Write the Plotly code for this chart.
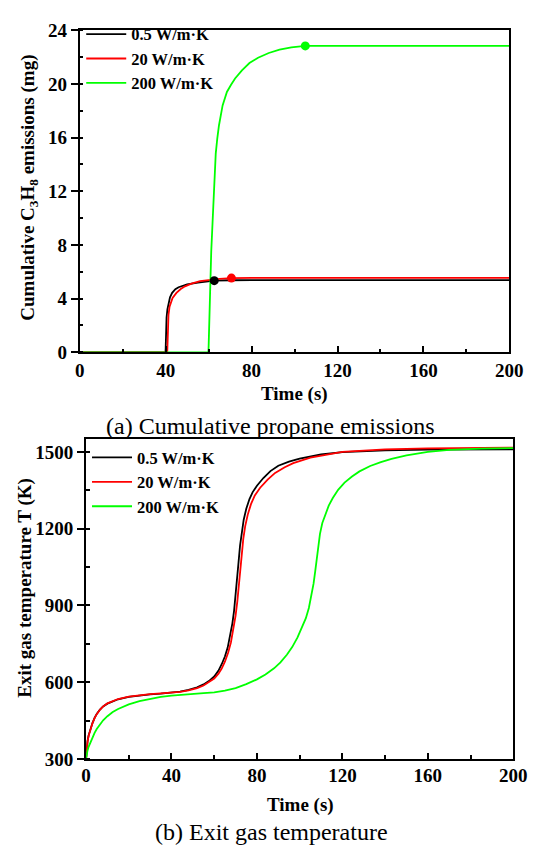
import plotly.graph_objects as go

# ---- (a) cumulative propane emissions, mg ----
t_a_05 = [0, 39.9, 40.0, 40.15, 40.4, 40.8, 41.3, 42.0, 43.0, 44.5, 46.0, 47.6, 50.0, 55.0, 60.0, 62.6, 70.0, 80.0, 200.0]
m_a_05 = [0, 0, 0.3, 1.8, 2.6, 3.2, 3.7, 4.1, 4.43, 4.7, 4.85, 4.95, 5.07, 5.2, 5.3, 5.34, 5.37, 5.38, 5.38]

t_a_20 = [0, 40.7, 40.8, 40.95, 41.3, 41.8, 42.3, 43.2, 45.0, 47.0, 49.0, 52.0, 56.0, 60.0, 65.0, 70.6, 80.0, 200.0]
m_a_20 = [0, 0, 0.3, 1.8, 2.8, 3.4, 3.7, 4.05, 4.43, 4.72, 4.92, 5.12, 5.3, 5.4, 5.48, 5.53, 5.55, 5.55]

t_a_200 = [0, 59.9, 60.0, 60.3, 60.7, 61.2, 61.8, 62.5, 63.3, 64.0, 64.8, 66.5, 68.5, 70.5, 72.3, 75.5,
           79.0, 83.0, 88.0, 93.0, 98.5, 105.0, 200.0]
m_a_200 = [0, 0, 0.5, 2.5, 5.0, 7.5, 9.6, 12.0, 14.8, 15.9, 16.9, 18.4, 19.4, 19.95, 20.4, 21.0,
           21.55, 21.95, 22.3, 22.55, 22.72, 22.83, 22.83]

# end-of-release markers (time, mass)
mark_t = [62.6, 70.6, 105.0]
mark_m = [5.34, 5.53, 22.83]

# ---- (b) exit gas temperature, K ----
t_b_05 = [0, 0.3, 0.7, 1.2, 2, 3, 4, 5, 6.5, 8, 10, 12.5, 15, 20, 25, 30, 35, 40, 44, 48, 52, 55, 57.5,
          60, 62, 63.5, 65, 66.3, 67.5, 68.5, 69.3, 70, 70.7, 71.4, 72.1, 72.9, 73.8, 75, 76.5, 78, 80,
          83, 86.3, 90, 95, 100, 110, 120, 140, 160, 200]
T_b_05 = [300, 340, 370, 392, 415, 440, 460, 476, 493, 505, 516, 526, 533, 542, 548, 552, 555, 558, 563, 570, 580, 591, 604,
          622, 645, 670, 700, 735, 780, 830, 880, 935, 1000, 1070, 1135, 1190, 1235, 1278, 1316, 1343, 1368,
          1398, 1425, 1446, 1462, 1474, 1490, 1499, 1506, 1509, 1510]

t_b_20 = [0, 0.3, 0.7, 1.2, 2, 3, 4, 5, 6.5, 8, 10, 12.5, 15, 20, 25, 30, 35, 40, 44, 48, 52, 55, 57.5,
          60, 62, 63.5, 65, 66.5, 67.8, 69, 70, 70.8, 71.5, 72.2, 72.9, 73.6, 74.5, 75.7, 77.2, 79, 81.5,
          85, 88.5, 93, 97, 105, 120, 140, 160, 200]
T_b_20 = [300, 338, 368, 390, 414, 439, 459, 475, 492, 505, 517, 527, 534, 543, 549, 553, 556, 558, 562, 568, 577, 587, 599,
          614, 633, 653, 680, 715, 755, 805, 860, 915, 975, 1040, 1105, 1160, 1210, 1255, 1296, 1330, 1360,
          1392, 1418, 1440, 1456, 1478, 1500, 1510, 1514, 1517]

t_b_200 = [0, 0.3, 0.7, 1.2, 2, 3, 4, 5, 6.5, 8, 10, 12.5, 15, 20, 25, 30, 35, 40, 45, 50, 55, 60, 65, 70,
           75, 80, 84, 88, 91, 94, 96.5, 99, 101, 102.9, 104.3, 105.5, 106.5, 107.3, 108, 108.7, 109.5,
           110.6, 112, 113.6, 115.5, 118, 121, 124.5, 128, 133, 138, 143, 150, 160, 170, 185, 200]
T_b_200 = [300, 318, 333, 347, 365, 385, 402, 417, 436, 451, 467, 483, 495, 513, 526, 535, 542, 547, 551, 555, 557, 560, 567, 577,
           592, 611, 630, 654, 677, 707, 737, 775, 812, 850, 890, 935, 985, 1035, 1085, 1135, 1180,
           1222, 1258, 1290, 1320, 1352, 1380, 1404, 1424, 1445, 1460, 1473, 1487, 1500, 1508, 1513, 1515]

names = ["0.5 W/m\u00b7K", "20 W/m\u00b7K", "200 W/m\u00b7K"]
colors = ["#000000", "#ff0000", "#00ff00"]

x_ticks = [0, 40, 80, 120, 160, 200]
y_ticks_a = [0, 4, 8, 12, 16, 20, 24]
y_ticks_b = [300, 600, 900, 1200, 1500]

FONT = "Liberation Serif, Times New Roman, serif"
W, H = 541, 852

fig = go.Figure()

series_a = [(t_a_05, m_a_05), (t_a_20, m_a_20), (t_a_200, m_a_200)]
for (tx, my), nm, c in zip(series_a, names, colors):
    fig.add_trace(go.Scatter(x=tx, y=my, mode="lines", name=nm, line=dict(color=c, width=1.8),
                             xaxis="x", yaxis="y", legend="legend"))
for tx, my, c in zip(mark_t, mark_m, colors):
    fig.add_trace(go.Scatter(x=[tx], y=[my], mode="markers", showlegend=False,
                             marker=dict(color=c, size=9), xaxis="x", yaxis="y"))

series_b = [(t_b_05, T_b_05), (t_b_20, T_b_20), (t_b_200, T_b_200)]
for (tx, ty), nm, c in zip(series_b, names, colors):
    fig.add_trace(go.Scatter(x=tx, y=ty, mode="lines", name=nm,
                             line=dict(color=c, width=1.8),
                             xaxis="x2", yaxis="y2", legend="legend2"))

tick_font = dict(family=FONT, size=19, color="black", weight="bold")


def xaxis_cfg(domain, anchor, standoff):
    return dict(domain=domain, anchor=anchor, range=[0, 200], tickvals=x_ticks,
                ticks="inside", ticklen=6, tickwidth=1.5, tickcolor="black",
                minor=dict(dtick=20, tick0=0, ticks="inside", ticklen=3.5, tickwidth=1.5, tickcolor="black"),
                showline=True, linewidth=2, linecolor="black", mirror=True,
                showgrid=False, zeroline=False, tickfont=tick_font, ticklabelstandoff=standoff)


def yaxis_cfg(domain, anchor, rng, tv, minor_dtick):
    return dict(domain=domain, anchor=anchor, range=rng, tickvals=tv,
                ticks="outside", ticklen=7, tickwidth=1.5, tickcolor="black",
                minor=dict(dtick=minor_dtick, tick0=rng[0], ticks="inside", ticklen=3.5, tickwidth=1.5,
                           tickcolor="black"),
                showline=True, linewidth=2, linecolor="black", mirror=True,
                showgrid=False, zeroline=False, tickfont=tick_font, ticklabelstandoff=0)


def px_x(p):
    return p / W


def px_y(p):
    return 1 - p / H


legend_font = dict(family=FONT, size=16.5, color="black", weight="bold")

fig.update_layout(
    width=W, height=H,
    margin=dict(l=0, r=0, t=0, b=0),
    paper_bgcolor="white", plot_bgcolor="white",
    font=dict(family=FONT, color="black"),
    xaxis=xaxis_cfg([px_x(77.5), px_x(522.7)], "y", 0),
    yaxis=yaxis_cfg([px_y(351), px_y(20.7)], "x", [0, 24], y_ticks_a, 2),
    xaxis2=xaxis_cfg([px_x(84), px_x(526.8)], "y2", -2),
    yaxis2=yaxis_cfg([px_y(767.8), px_y(440)], "x2", [300, 1550], y_ticks_b, 150),
    legend=dict(x=px_x(79), y=px_y(7), xanchor="left", yanchor="top", font=legend_font,
                bgcolor="rgba(0,0,0,0)", borderwidth=0, itemwidth=40, tracegroupgap=0),
    legend2=dict(x=px_x(85), y=px_y(441), xanchor="left", yanchor="top", font=legend_font,
                 bgcolor="rgba(0,0,0,0)", borderwidth=0, itemwidth=40, tracegroupgap=0),
    showlegend=True,
)

title_font = dict(family=FONT, size=19, color="black")
caption_font = dict(family=FONT, size=24, color="black")

annotations = [
    dict(text="<b>Cumulative C<sub>3</sub>H<sub>8</sub> emissions (mg)</b>", x=px_x(24), y=px_y(182),
         textangle=-90, font=title_font),
    dict(text="<b>Time (s)</b>", x=px_x(300), y=px_y(394), font=title_font),
    dict(text="(a) Cumulative propane emissions", x=px_x(275), y=px_y(426), font=caption_font),
    dict(text="<b>Exit gas temperature T (K)</b>", x=px_x(21), y=px_y(592),
         textangle=-90, font=title_font),
    dict(text="<b>Time (s)</b>", x=px_x(306), y=px_y(815), font=title_font),
    dict(text="(b) Exit gas temperature", x=px_x(276), y=px_y(843), font=caption_font),
]
for a in annotations:
    fig.add_annotation(xref="paper", yref="paper", xanchor="center", yanchor="middle",
                       showarrow=False, **a)

fig.write_html("out.html")
